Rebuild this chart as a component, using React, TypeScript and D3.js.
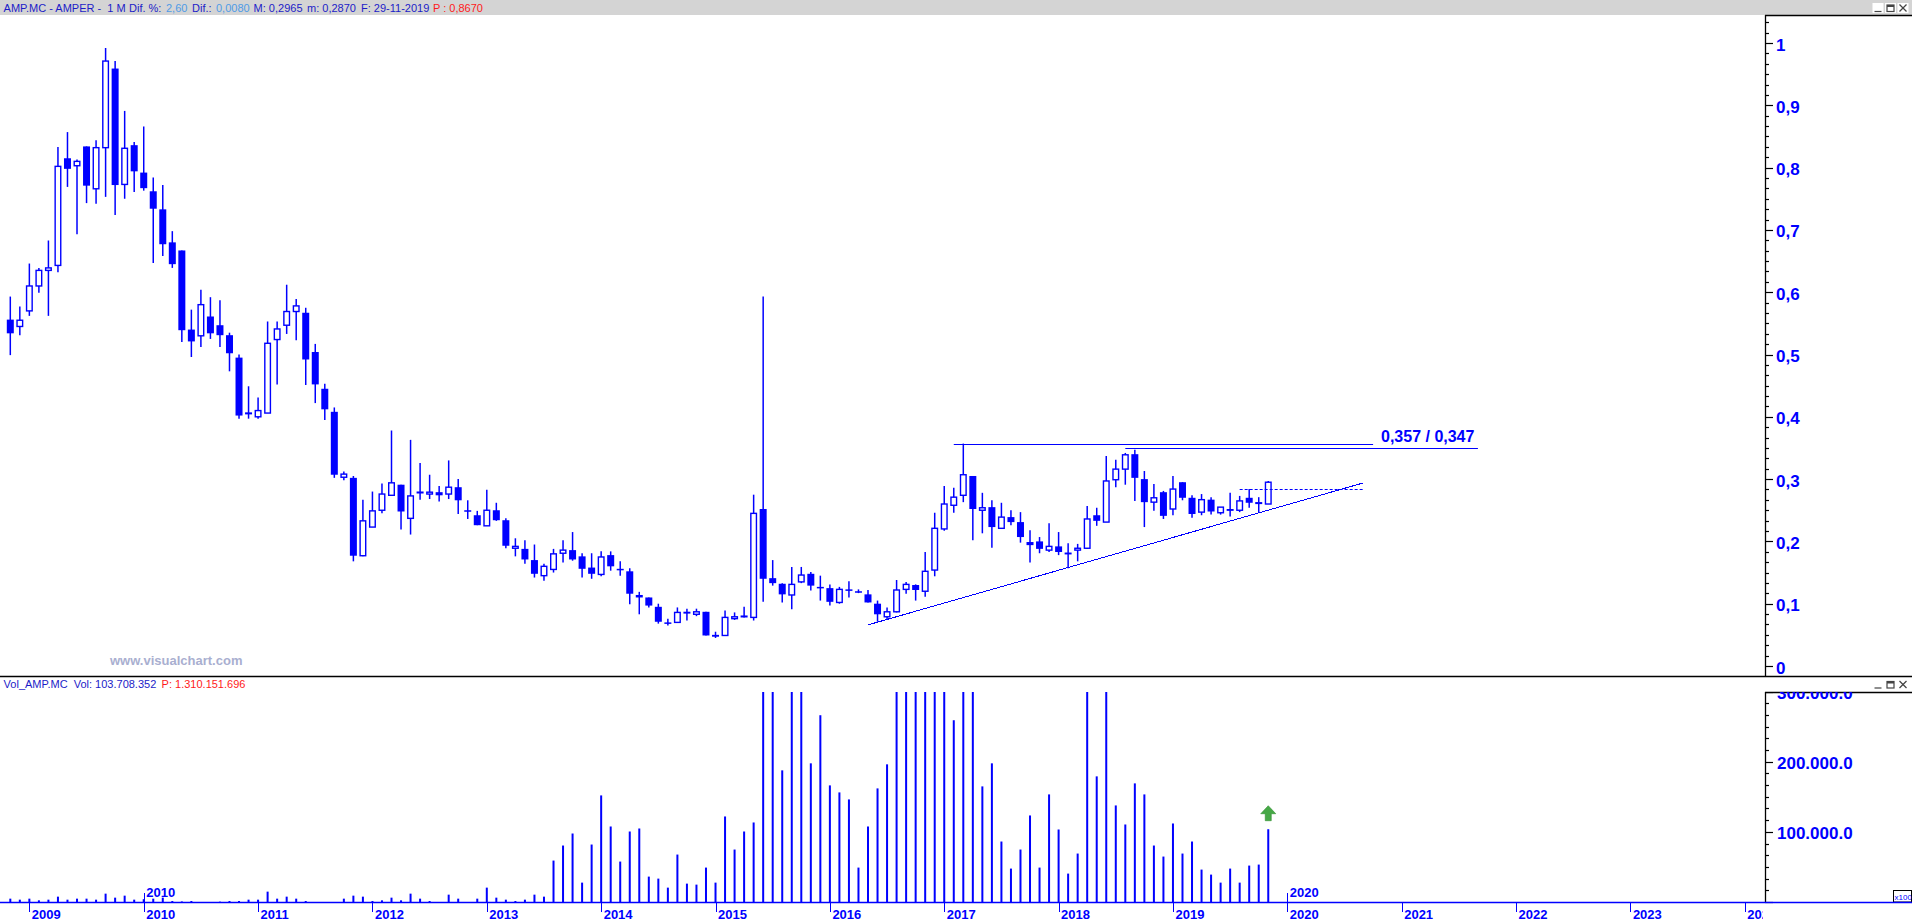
import React, { useRef, useEffect } from 'react';
import * as d3 from 'd3';

// ─── Data: monthly bars, Nov 2008 → Nov 2019 ─────────────────────────────────
const opens = [
    0.556, 0.545, 0.570, 0.610, 0.635, 0.643, 0.815, 0.803, 0.834, 0.766,
    0.832, 0.959, 0.773, 0.836, 0.792, 0.762, 0.733, 0.680, 0.667, 0.540,
    0.530, 0.561, 0.547, 0.531, 0.495, 0.405, 0.400, 0.406, 0.524, 0.547,
    0.569, 0.567, 0.504, 0.445, 0.408, 0.303, 0.302, 0.177, 0.223, 0.250,
    0.274, 0.291, 0.237, 0.278, 0.276, 0.279, 0.276, 0.287, 0.250, 0.242,
    0.225, 0.250, 0.234, 0.189, 0.188, 0.170, 0.145, 0.155, 0.181, 0.186,
    0.176, 0.158, 0.147, 0.178, 0.156, 0.152, 0.114, 0.110, 0.095, 0.070,
    0.070, 0.086, 0.083, 0.087, 0.050, 0.049, 0.076, 0.079, 0.078, 0.252,
    0.141, 0.132, 0.114, 0.135, 0.148, 0.127, 0.125, 0.102, 0.123, 0.120,
    0.115, 0.100, 0.079, 0.087, 0.123, 0.130, 0.120, 0.154, 0.220, 0.258,
    0.274, 0.305, 0.250, 0.255, 0.221, 0.239, 0.231, 0.199, 0.200, 0.186,
    0.192, 0.181, 0.186, 0.189, 0.242, 0.231, 0.299, 0.316, 0.340, 0.300,
    0.263, 0.279, 0.252, 0.295, 0.270, 0.247, 0.267, 0.246, 0.252, 0.250,
    0.270, 0.261, 0.260,
];
const highs = [
    0.593, 0.577, 0.646, 0.639, 0.683, 0.833, 0.857, 0.813, 0.834, 0.844,
    0.992, 0.971, 0.891, 0.841, 0.866, 0.784, 0.772, 0.698, 0.667, 0.572,
    0.604, 0.592, 0.587, 0.535, 0.500, 0.449, 0.431, 0.553, 0.553, 0.612,
    0.589, 0.575, 0.517, 0.453, 0.415, 0.312, 0.305, 0.267, 0.280, 0.293,
    0.378, 0.291, 0.363, 0.326, 0.307, 0.289, 0.330, 0.300, 0.266, 0.249,
    0.283, 0.262, 0.237, 0.205, 0.202, 0.195, 0.164, 0.188, 0.202, 0.215,
    0.181, 0.181, 0.184, 0.184, 0.168, 0.157, 0.119, 0.110, 0.100, 0.076,
    0.094, 0.092, 0.092, 0.087, 0.055, 0.089, 0.086, 0.095, 0.275, 0.593,
    0.170, 0.133, 0.159, 0.159, 0.151, 0.145, 0.131, 0.127, 0.136, 0.123,
    0.122, 0.105, 0.094, 0.138, 0.135, 0.131, 0.183, 0.246, 0.289, 0.286,
    0.357, 0.305, 0.278, 0.266, 0.262, 0.250, 0.247, 0.218, 0.207, 0.229,
    0.215, 0.197, 0.196, 0.257, 0.254, 0.337, 0.331, 0.342, 0.347, 0.313,
    0.292, 0.281, 0.305, 0.295, 0.274, 0.276, 0.271, 0.255, 0.278, 0.273,
    0.284, 0.271, 0.297,
];
const lows = [
    0.499, 0.531, 0.562, 0.599, 0.562, 0.632, 0.769, 0.693, 0.743, 0.742,
    0.753, 0.724, 0.750, 0.761, 0.763, 0.647, 0.658, 0.639, 0.520, 0.496,
    0.512, 0.525, 0.512, 0.473, 0.397, 0.397, 0.397, 0.406, 0.452, 0.533,
    0.523, 0.451, 0.422, 0.395, 0.302, 0.298, 0.168, 0.176, 0.223, 0.245,
    0.274, 0.219, 0.211, 0.267, 0.268, 0.264, 0.268, 0.244, 0.236, 0.226,
    0.225, 0.233, 0.189, 0.176, 0.164, 0.142, 0.137, 0.150, 0.166, 0.169,
    0.142, 0.140, 0.144, 0.153, 0.145, 0.099, 0.083, 0.094, 0.068, 0.065,
    0.069, 0.073, 0.080, 0.049, 0.045, 0.049, 0.074, 0.078, 0.073, 0.103,
    0.129, 0.102, 0.091, 0.133, 0.121, 0.105, 0.097, 0.100, 0.110, 0.117,
    0.102, 0.071, 0.074, 0.086, 0.116, 0.105, 0.111, 0.144, 0.217, 0.246,
    0.263, 0.202, 0.213, 0.190, 0.220, 0.226, 0.198, 0.166, 0.181, 0.183,
    0.178, 0.157, 0.168, 0.188, 0.225, 0.231, 0.287, 0.291, 0.265, 0.223,
    0.249, 0.236, 0.242, 0.266, 0.238, 0.242, 0.243, 0.243, 0.240, 0.247,
    0.254, 0.246, 0.260,
];
const closes = [
    0.534, 0.555, 0.610, 0.635, 0.639, 0.802, 0.798, 0.810, 0.771, 0.832,
    0.971, 0.772, 0.831, 0.794, 0.767, 0.734, 0.677, 0.645, 0.539, 0.521,
    0.580, 0.534, 0.531, 0.502, 0.402, 0.406, 0.410, 0.518, 0.541, 0.569,
    0.578, 0.492, 0.452, 0.412, 0.307, 0.308, 0.177, 0.233, 0.249, 0.276,
    0.294, 0.248, 0.273, 0.279, 0.279, 0.274, 0.287, 0.266, 0.249, 0.226,
    0.250, 0.234, 0.193, 0.192, 0.171, 0.148, 0.160, 0.180, 0.186, 0.171,
    0.156, 0.148, 0.175, 0.160, 0.155, 0.116, 0.110, 0.097, 0.071, 0.068,
    0.086, 0.086, 0.087, 0.049, 0.047, 0.078, 0.079, 0.080, 0.245, 0.140,
    0.133, 0.115, 0.131, 0.146, 0.129, 0.126, 0.103, 0.123, 0.121, 0.118,
    0.102, 0.083, 0.087, 0.122, 0.131, 0.122, 0.152, 0.221, 0.260, 0.271,
    0.307, 0.252, 0.254, 0.223, 0.239, 0.231, 0.207, 0.194, 0.188, 0.192,
    0.183, 0.181, 0.189, 0.236, 0.233, 0.297, 0.316, 0.339, 0.302, 0.263,
    0.270, 0.241, 0.284, 0.270, 0.244, 0.267, 0.248, 0.255, 0.249, 0.265,
    0.262, 0.262, 0.295,
];
// volume in axis units (thousands)
const volumes = [
    4762, 3333, 4762, 2381, 3333, 7619, 3333, 4762, 4762, 3333,
    11905, 6190, 9048, 3333, 4000, 4762, 6190, 1429, 800, 1429,
    0, 0, 500, 1429, 1429, 3333, 3333, 14762, 4762, 7619,
    4762, 1429, 0, 0, 0, 4762, 9048, 7619, 1429, 2381,
    6190, 2381, 11905, 4762, 1429, 0, 10476, 4762, 0, 4762,
    20476, 6190, 3333, 1429, 3333, 10476, 7619, 59048, 80476, 97619,
    27619, 81905, 151905, 107619, 57619, 100476, 104762, 36190, 33333, 20476,
    67619, 26190, 24762, 49048, 27619, 121905, 74762, 100476, 113333, 420000,
    380000, 187619, 350000, 330000, 197619, 266190, 166190, 156190, 146190, 49048,
    107619, 161905, 196190, 360000, 400000, 320000, 450000, 380000, 340000, 259048,
    500000, 420000, 164762, 197619, 86190, 47619, 74762, 123333, 49048, 153333,
    103333, 40476, 69048, 380000, 179048, 400000, 137619, 110476, 169048, 153333,
    80476, 64762, 111905, 69048, 86190, 46190, 39048, 27619, 47619, 27619,
    51905, 53333, 103708,
];

const yearTicks = d3.range(2009, 2025);
const decadeYears = [2010, 2020];
const priceTicks = [0, 0.1, 0.2, 0.3, 0.4, 0.5, 0.6, 0.7, 0.8, 0.9, 1];
const priceTickLabels = ['0', '0,1', '0,2', '0,3', '0,4', '0,5', '0,6', '0,7', '0,8', '0,9', '1'];
const volumeTicks = [100000, 200000, 300000];
const volumeTickLabels = ['100.000.0', '200.000.0', '300.000.0'];

// drawn studies (bar index, price)
const resistanceLines = [
    { from: 99, to: 143, price: 0.357 },
    { from: 117, to: 154, price: 0.35 },
];
const resistanceLabel = '0,357 / 0,347';
const supportLine = { from: 90, to: 142, p0: 0.066, p1: 0.294 };
const breakoutLine = { from: 129, to: 142, price: 0.284 };

const W = 1912;
const H = 922;
const BLUE = '#0000ff';
const FONT = '"Liberation Sans", Arial, sans-serif';

const App: React.FC = () => {
    const ref = useRef<SVGSVGElement | null>(null);

    useEffect(() => {
        if (!ref.current) return;
        document.body.style.margin = '0';
        document.body.style.overflow = 'hidden';

        const svg = d3.select(ref.current);
        svg.selectAll('*').remove();

        // ─── scales ─────────────────────────────────────────────
        const axisX = 1765;
        const x = d3.scaleLinear().domain([0, 132]).range([10.3, 10.3 + 9.53 * 132]);
        const y = d3.scaleLinear().domain([0, 1]).range([666, 43]);
        const yv = d3.scaleLinear().domain([0, 300000]).range([902, 691.5]);
        const yearIndex = (yr: number) => (yr - 2009) * 12 + 2;

        const defs = svg.append('defs');
        defs.append('clipPath').attr('id', 'clip-price')
            .append('rect').attr('x', 0).attr('y', 15).attr('width', axisX).attr('height', 661);
        defs.append('clipPath').attr('id', 'clip-vol')
            .append('rect').attr('x', 0).attr('y', 692).attr('width', axisX).attr('height', 210);
        defs.append('clipPath').attr('id', 'clip-years')
            .append('rect').attr('x', 0).attr('y', 676).attr('width', axisX - 2).attr('height', 246);
        defs.append('clipPath').attr('id', 'clip-vaxis')
            .append('rect').attr('x', axisX).attr('y', 692).attr('width', W - axisX).attr('height', 230);
        defs.append('clipPath').attr('id', 'clip-paxis')
            .append('rect').attr('x', axisX).attr('y', 15).attr('width', W - axisX).attr('height', 661);

        svg.append('rect').attr('width', W).attr('height', H).attr('fill', '#fff');

        // ─── header bar ─────────────────────────────────────────
        svg.append('rect').attr('x', 0).attr('y', 0).attr('width', W).attr('height', 15).attr('fill', '#d4d4d4');
        const dark = '#1c1cc8';
        const light = '#4f9be6';
        const red = '#ff1a1a';
        const header = [
            { t: 'AMP.MC - AMPER -  1 M', x: 3.6, c: dark },
            { t: 'Dif. %:', x: 129, c: dark },
            { t: '2,60', x: 166, c: light },
            { t: 'Dif.:', x: 192, c: dark },
            { t: '0,0080', x: 216, c: light },
            { t: 'M: 0,2965', x: 253.6, c: dark },
            { t: 'm: 0,2870', x: 307, c: dark },
            { t: 'F: 29-11-2019', x: 361, c: dark },
            { t: 'P : 0,8670', x: 433, c: red },
        ];
        svg.append('g').selectAll('text').data(header).enter().append('text')
            .attr('x', d => d.x).attr('y', 11.5)
            .attr('fill', d => d.c)
            .style('font-family', FONT).style('font-size', '11px')
            .attr('xml:space', 'preserve')
            .text(d => d.t);

        const winButtons = (gx: number, gy: number, box: boolean) => {
            const g = svg.append('g').attr('transform', `translate(${gx},${gy})`)
                .attr('stroke', '#444').attr('fill', 'none').attr('stroke-width', 1.2);
            if (box) {
                [0, 12.5, 25].forEach(o => g.append('rect').attr('x', o).attr('y', -0.5).attr('width', 11).attr('height', 10)
                    .attr('fill', '#fff').attr('stroke', 'none'));
            }
            g.append('line').attr('x1', 2).attr('x2', 9).attr('y1', 8).attr('y2', 8);
            g.append('rect').attr('x', 14.5).attr('y', 1.5).attr('width', 7).attr('height', 6.5);
            g.append('line').attr('x1', 14.5).attr('x2', 21.5).attr('y1', 2.5).attr('y2', 2.5).attr('stroke-width', 2);
            g.append('line').attr('x1', 27).attr('x2', 34).attr('y1', 1).attr('y2', 8);
            g.append('line').attr('x1', 34).attr('x2', 27).attr('y1', 1).attr('y2', 8);
        };
        winButtons(1872.5, 3.5, true);
        winButtons(1872.5, 680, false);

        // ─── watermark ──────────────────────────────────────────
        svg.append('text').attr('x', 110).attr('y', 665)
            .attr('fill', '#a9afd0').style('font-family', FONT)
            .style('font-size', '13px').style('font-weight', 700)
            .text('www.visualchart.com');

        // ─── candles ────────────────────────────────────────────
        const idx = d3.range(opens.length);
        const price = svg.append('g').attr('clip-path', 'url(#clip-price)');

        price.append('g').selectAll('line').data(idx).enter().append('line')
            .attr('x1', i => x(i)).attr('x2', i => x(i))
            .attr('y1', i => y(highs[i])).attr('y2', i => y(lows[i]))
            .attr('stroke', BLUE).attr('stroke-width', 1.5);

        const bodyW = 7;
        price.append('g').selectAll('rect').data(idx.filter(i => closes[i] < opens[i])).enter().append('rect')
            .attr('x', i => x(i) - bodyW / 2)
            .attr('y', i => y(opens[i]))
            .attr('width', bodyW)
            .attr('height', i => Math.max(1.5, y(closes[i]) - y(opens[i])))
            .attr('fill', BLUE);

        price.append('g').selectAll('rect').data(idx.filter(i => closes[i] >= opens[i])).enter().append('rect')
            .attr('x', i => x(i) - (bodyW - 1.4) / 2)
            .attr('y', i => y(closes[i]))
            .attr('width', bodyW - 1.4)
            .attr('height', i => Math.max(0.5, y(opens[i]) - y(closes[i])))
            .attr('fill', '#fff').attr('stroke', BLUE).attr('stroke-width', 1.4);

        // ─── studies ────────────────────────────────────────────
        price.append('g').selectAll('line').data(resistanceLines).enter().append('line')
            .attr('x1', d => x(d.from)).attr('x2', d => x(d.to))
            .attr('y1', d => Math.round(y(d.price)) + 0.5).attr('y2', d => Math.round(y(d.price)) + 0.5)
            .attr('stroke', BLUE).attr('stroke-width', 1.2);

        price.append('line')
            .attr('x1', x(supportLine.from)).attr('y1', y(supportLine.p0))
            .attr('x2', x(supportLine.to)).attr('y2', y(supportLine.p1))
            .attr('stroke', BLUE).attr('stroke-width', 1)
            .attr('shape-rendering', 'crispEdges');

        price.append('line')
            .attr('x1', x(breakoutLine.from)).attr('x2', x(breakoutLine.to))
            .attr('y1', Math.round(y(breakoutLine.price)) + 0.5).attr('y2', Math.round(y(breakoutLine.price)) + 0.5)
            .attr('stroke', BLUE).attr('stroke-width', 1).attr('stroke-dasharray', '3,2');

        svg.append('text')
            .attr('x', 1381).attr('y', 441.5)
            .attr('fill', BLUE).style('font-family', FONT)
            .style('font-size', '16px').style('font-weight', 700)
            .text(resistanceLabel);

        // ─── price axis ─────────────────────────────────────────
        svg.append('line').attr('x1', axisX + 0.5).attr('x2', axisX + 0.5).attr('y1', 15).attr('y2', 676)
            .attr('stroke', '#000').attr('stroke-width', 1.3);
        svg.append('line').attr('x1', axisX).attr('x2', W).attr('y1', 15.5).attr('y2', 15.5)
            .attr('stroke', '#000').attr('stroke-width', 1.3);

        const pAxis = svg.append('g').attr('clip-path', 'url(#clip-paxis)');
        const minorP = d3.range(0, 64).map(k => k / 60);
        pAxis.selectAll('line').data(minorP).enter().append('line')
            .attr('x1', axisX).attr('x2', (_, k) => axisX + (k % 6 === 0 ? 8 : 4))
            .attr('y1', d => Math.round(y(d)) + 0.5).attr('y2', d => Math.round(y(d)) + 0.5)
            .attr('stroke', '#000').attr('stroke-width', 1.2);
        pAxis.selectAll('text').data(priceTicks).enter().append('text')
            .attr('x', 1776).attr('y', d => y(d) + 7.5)
            .attr('fill', BLUE).style('font-family', FONT)
            .style('font-size', '17px').style('font-weight', 700)
            .text((_, i) => priceTickLabels[i]);

        // panel separator
        svg.append('line').attr('x1', 0).attr('x2', W).attr('y1', 676.5).attr('y2', 676.5)
            .attr('stroke', '#000').attr('stroke-width', 1.3);

        // ─── volume panel ───────────────────────────────────────
        const volText = [
            { t: 'Vol_AMP.MC  Vol: 103.708.352', x: 3.6, c: dark },
            { t: 'P: 1.310.151.696', x: 161.6, c: red },
        ];
        svg.append('g').selectAll('text').data(volText).enter().append('text')
            .attr('x', d => d.x).attr('y', 688)
            .attr('fill', d => d.c).attr('xml:space', 'preserve')
            .style('font-family', FONT).style('font-size', '11px')
            .text(d => d.t);

        const vol = svg.append('g').attr('clip-path', 'url(#clip-vol)');
        vol.selectAll('rect').data(idx.filter(i => volumes[i] > 0)).enter().append('rect')
            .attr('x', i => x(i) - 1)
            .attr('y', i => yv(volumes[i]))
            .attr('width', 2)
            .attr('height', i => yv(0) - yv(volumes[i]))
            .attr('fill', BLUE);

        // green arrow above last bar
        const last = opens.length - 1;
        const ax = x(last);
        const ay = yv(volumes[last]) - 8.5;
        svg.append('path')
            .attr('d', `M${ax - 3},${ay} L${ax - 3},${ay - 7} L${ax - 7.5},${ay - 7} L${ax},${ay - 15} L${ax + 7.5},${ay - 7} L${ax + 3},${ay - 7} L${ax + 3},${ay} Z`)
            .attr('fill', '#46a846').attr('stroke', '#2f8f2f').attr('stroke-width', 0.6);

        // volume axis
        svg.append('line').attr('x1', axisX + 0.5).attr('x2', axisX + 0.5).attr('y1', 692).attr('y2', 902)
            .attr('stroke', '#000').attr('stroke-width', 1.3);
        svg.append('line').attr('x1', axisX).attr('x2', W).attr('y1', 692.5).attr('y2', 692.5)
            .attr('stroke', '#000').attr('stroke-width', 1.3);
        const vAxis = svg.append('g').attr('clip-path', 'url(#clip-vaxis)');
        const minorV = d3.range(0, 19).map(k => (k * 100000) / 6);
        vAxis.selectAll('line').data(minorV).enter().append('line')
            .attr('x1', axisX).attr('x2', (_, k) => axisX + (k % 6 === 0 ? 8 : 4))
            .attr('y1', d => Math.round(yv(d)) + 0.5).attr('y2', d => Math.round(yv(d)) + 0.5)
            .attr('stroke', '#000').attr('stroke-width', 1.2);
        vAxis.selectAll('text').data(volumeTicks).enter().append('text')
            .attr('x', 1777).attr('y', d => yv(d) + 7)
            .attr('fill', BLUE).style('font-family', FONT)
            .style('font-size', '17px').style('font-weight', 700)
            .text((_, i) => volumeTickLabels[i]);

        // x100 box
        svg.append('rect').attr('x', 1893.5).attr('y', 890.5).attr('width', 18).attr('height', 11.5)
            .attr('fill', '#fff').attr('stroke', '#000').attr('stroke-width', 1);
        svg.append('text').attr('x', 1894.5).attr('y', 899.5)
            .attr('fill', BLUE).style('font-family', FONT).style('font-size', '8px').text('x100');

        // ─── time axis ──────────────────────────────────────────
        svg.append('line').attr('x1', 0).attr('x2', W).attr('y1', 902.5).attr('y2', 902.5)
            .attr('stroke', BLUE).attr('stroke-width', 1.4);

        const tAxis = svg.append('g').attr('clip-path', 'url(#clip-years)');
        tAxis.selectAll('line.yt').data(yearTicks).enter().append('line')
            .attr('class', 'yt')
            .attr('x1', d => Math.round(x(yearIndex(d))) + 0.5).attr('x2', d => Math.round(x(yearIndex(d))) + 0.5)
            .attr('y1', 902).attr('y2', 912)
            .attr('stroke', BLUE).attr('stroke-width', 1);
        tAxis.selectAll('text.yl').data(yearTicks).enter().append('text')
            .attr('class', 'yl')
            .attr('x', d => x(yearIndex(d)) + 2.5).attr('y', 918.5)
            .attr('fill', BLUE).style('font-family', FONT)
            .style('font-size', '13px').style('font-weight', 700)
            .text(d => String(d));

        tAxis.selectAll('line.dt').data(decadeYears).enter().append('line')
            .attr('class', 'dt')
            .attr('x1', d => Math.round(x(yearIndex(d))) + 0.5).attr('x2', d => Math.round(x(yearIndex(d))) + 0.5)
            .attr('y1', 893).attr('y2', 902)
            .attr('stroke', BLUE).attr('stroke-width', 1);
        tAxis.selectAll('text.dl').data(decadeYears).enter().append('text')
            .attr('class', 'dl')
            .attr('x', d => x(yearIndex(d)) + 2.5).attr('y', 897)
            .attr('fill', BLUE).style('font-family', FONT)
            .style('font-size', '13px').style('font-weight', 700)
            .text(d => String(d));
    }, []);

    return <svg ref={ref} width={W} height={H} style={{ display: 'block' }} />;
};

export default App;
